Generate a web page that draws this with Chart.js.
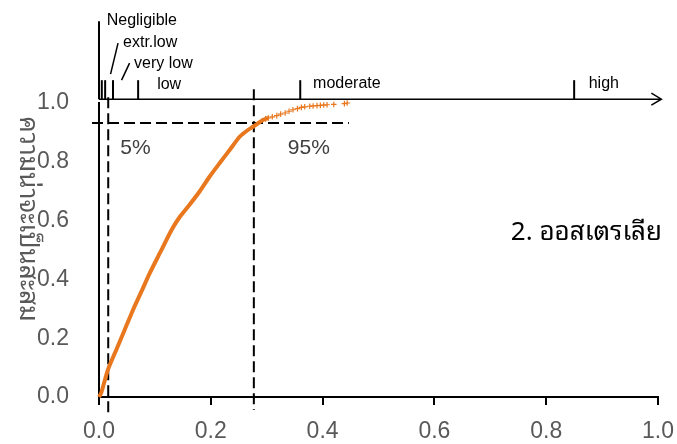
<!DOCTYPE html>
<html>
<head>
<meta charset="utf-8">
<script src="https://cdn.jsdelivr.net/npm/chart.js@4.4.1/dist/chart.umd.min.js"></script>
<style>
  html, body { margin: 0; padding: 0; background: #fff; }
</style>
</head>
<body>
<canvas id="chart" width="677" height="444"></canvas>
<script>
// cumulative curve
const cdfX = [0, 0.004, 0.016, 0.031, 0.046, 0.061, 0.076, 0.091, 0.109, 0.130, 0.145, 0.162, 0.180, 0.198, 0.216, 0.234, 0.252, 0.267, 0.276, 0.294, 0.303];
const cdfY = [0, 0.014, 0.093, 0.161, 0.229, 0.297, 0.359, 0.422, 0.490, 0.569, 0.614, 0.654, 0.699, 0.750, 0.796, 0.841, 0.886, 0.909, 0.920, 0.943, 0.949];
// sparse tail of single "+" markers
const tailX = [0.298, 0.303, 0.310, 0.318, 0.325, 0.333, 0.340, 0.347, 0.355, 0.362, 0.368, 0.377, 0.383, 0.390, 0.396, 0.402, 0.408, 0.420, 0.439, 0.444];
const tailY = [0.946, 0.949, 0.953, 0.957, 0.962, 0.966, 0.972, 0.977, 0.981, 0.985, 0.987, 0.989, 0.990, 0.991, 0.992, 0.993, 0.994, 0.995, 0.998, 1.000];

const xTicks = [0, 0.2, 0.4, 0.6, 0.8, 1.0];
const yTicks = [0, 0.2, 0.4, 0.6, 0.8, 1.0];

// risk classes on the top arrow axis
const riskTicks = [0, 0.005, 0.011, 0.025, 0.07, 0.36, 0.85];
const riskNames = ['Negligible', 'extr.low', 'very low', 'low', 'moderate', 'high'];
const riskNameX = [0.0138, 0.043, 0.0627, 0.104, 0.383, 0.876];
const topAxisY = 1.013;
const topAxisEnd = 1.006;

// 5% / 95% marks
const pctX = [0.0165, 0.277];
const pctNames = ['5%', '95%'];
const pctLevel = 0.932;
const pctLevelEnd = 0.447;

const yTitle = 'ความน่าจะเป็นสะสม';
const countryTitle = '2. ออสเตรเลีย';

const orange = '#E8771E';
const grey = '#595959';
const fontFam = "'Liberation Sans', Arial, sans-serif";
const thaiFam = "'Noto Sans Thai Looped', Loma, Garuda, 'Tlwg Typo', Tahoma, 'Noto Sans Thai', 'Liberation Sans', sans-serif";

const decor = {
  id: 'decor',
  beforeDatasetsDraw(chart) {
    const { ctx, scales: { x, y } } = chart;
    ctx.save();
    ctx.strokeStyle = '#000';
    ctx.lineWidth = 2;
    ctx.setLineDash([11, 5]);
    // horizontal dashed level
    const ly = y.getPixelForValue(pctLevel);
    ctx.beginPath();
    ctx.moveTo(x.left - 7, ly);
    ctx.lineTo(x.getPixelForValue(pctLevelEnd), ly);
    ctx.stroke();
    // vertical dashed quantiles
    const top = y.getPixelForValue(topAxisY);
    [[top - 2, y.bottom + 16], [top - 10, y.bottom + 13]].forEach((ext, i) => {
      const px = x.getPixelForValue(pctX[i]);
      ctx.beginPath();
      ctx.moveTo(px, ext[0]);
      ctx.lineTo(px, ext[1]);
      ctx.stroke();
    });
    ctx.restore();
  },
  afterDraw(chart) {
    const { ctx, scales: { x, y } } = chart;
    const top = y.getPixelForValue(topAxisY);
    ctx.save();
    ctx.strokeStyle = '#000';
    ctx.fillStyle = '#000';

    // top arrow axis
    const xEnd = x.getPixelForValue(topAxisEnd);
    ctx.lineWidth = 1.5;
    ctx.beginPath();
    ctx.moveTo(x.left, top);
    ctx.lineTo(xEnd, top);
    ctx.moveTo(xEnd - 10, top - 6);
    ctx.lineTo(xEnd, top);
    ctx.lineTo(xEnd - 10, top + 6);
    ctx.stroke();

    // class ticks
    ctx.lineWidth = 2;
    riskTicks.forEach((v, i) => {
      const px = x.getPixelForValue(v);
      ctx.beginPath();
      ctx.moveTo(px, top);
      ctx.lineTo(px, i === 0 ? top - 78 : top - 19);
      ctx.stroke();
    });

    // pointers for the two narrow classes
    ctx.lineWidth = 1.5;
    const p1 = x.getPixelForValue(riskNameX[1]);
    const p2 = x.getPixelForValue(riskNameX[2]);
    ctx.beginPath();
    ctx.moveTo(p1 - 5, top - 56);
    ctx.lineTo(p1 - 12.5, top - 25);
    ctx.moveTo(p2 - 4.5, top - 36);
    ctx.lineTo(p2 - 12.5, top - 19);
    ctx.stroke();

    // class names
    const nameRise = [74.5, 52.3, 31, 10.5, 10.7, 10.7];
    ctx.font = '16px ' + fontFam;
    ctx.textAlign = 'left';
    ctx.textBaseline = 'alphabetic';
    riskNames.forEach((n, i) => {
      ctx.fillText(n, x.getPixelForValue(riskNameX[i]), top - nameRise[i]);
    });

    // 5% / 95% labels
    ctx.fillStyle = '#404040';
    ctx.font = '21px ' + fontFam;
    ctx.textBaseline = 'middle';
    ctx.fillText(pctNames[0], x.getPixelForValue(pctX[0]) + 12, y.getPixelForValue(pctLevel) + 25);
    ctx.fillText(pctNames[1], x.getPixelForValue(pctX[1]) + 34, y.getPixelForValue(pctLevel) + 25);

    // country name
    ctx.fillStyle = '#000';
    ctx.font = '26px ' + thaiFam;
    ctx.textAlign = 'right';
    ctx.fillText(countryTitle, x.right + 4, y.getPixelForValue(0.56));

    // y title, turned clockwise
    ctx.fillStyle = grey;
    ctx.font = '26px ' + thaiFam;
    ctx.translate(27, (y.top + y.bottom) / 2 - 31);
    ctx.rotate(Math.PI / 2);
    ctx.textAlign = 'center';
    ctx.fillText(yTitle, 0, 0);
    ctx.restore();
  }
};

new Chart(document.getElementById('chart'), {
  type: 'scatter',
  data: {
    datasets: [
      {
        label: 'cdf',
        data: cdfX.map((v, i) => ({ x: v, y: cdfY[i] })),
        showLine: true,
        borderColor: orange,
        backgroundColor: orange,
        borderWidth: 4,
        pointRadius: 0,
        tension: 0.2,
        clip: false
      },
      {
        label: 'tail',
        data: tailX.map((v, i) => ({ x: v, y: tailY[i] })),
        showLine: false,
        borderColor: orange,
        backgroundColor: orange,
        pointStyle: 'cross',
        pointRadius: 2.8,
        pointBorderWidth: 1.2,
        clip: false
      }
    ]
  },
  options: {
    responsive: false,
    animation: false,
    devicePixelRatio: 1,
    layout: { padding: { left: 0, right: 19, top: 103, bottom: 0 } },
    plugins: { legend: { display: false }, tooltip: { enabled: false } },
    scales: {
      x: {
        type: 'linear',
        min: 0,
        max: 1,
        afterBuildTicks: s => { s.ticks = xTicks.map(v => ({ value: v })); },
        afterFit: s => { s.height = 47; },
        ticks: {
          color: grey,
          // tall line height pushes the labels down without widening the side padding
          font: { family: fontFam, size: 23, lineHeight: 2.07 },
          padding: 3,
          maxRotation: 0,
          callback: v => v.toFixed(1)
        },
        grid: { drawOnChartArea: false, color: '#000', lineWidth: 2, tickLength: 8 },
        border: { color: '#000', width: 2 }
      },
      y: {
        type: 'linear',
        min: 0,
        max: 1,
        afterBuildTicks: s => { s.ticks = yTicks.map(v => ({ value: v })); },
        afterFit: s => { s.width = 99; },
        ticks: {
          color: grey,
          font: { family: fontFam, size: 23 },
          padding: 22,
          callback: v => v.toFixed(1)
        },
        grid: { display: false },
        border: { display: true, color: '#000', width: 2 }
      }
    }
  },
  plugins: [decor]
});
</script>
</body>
</html>
